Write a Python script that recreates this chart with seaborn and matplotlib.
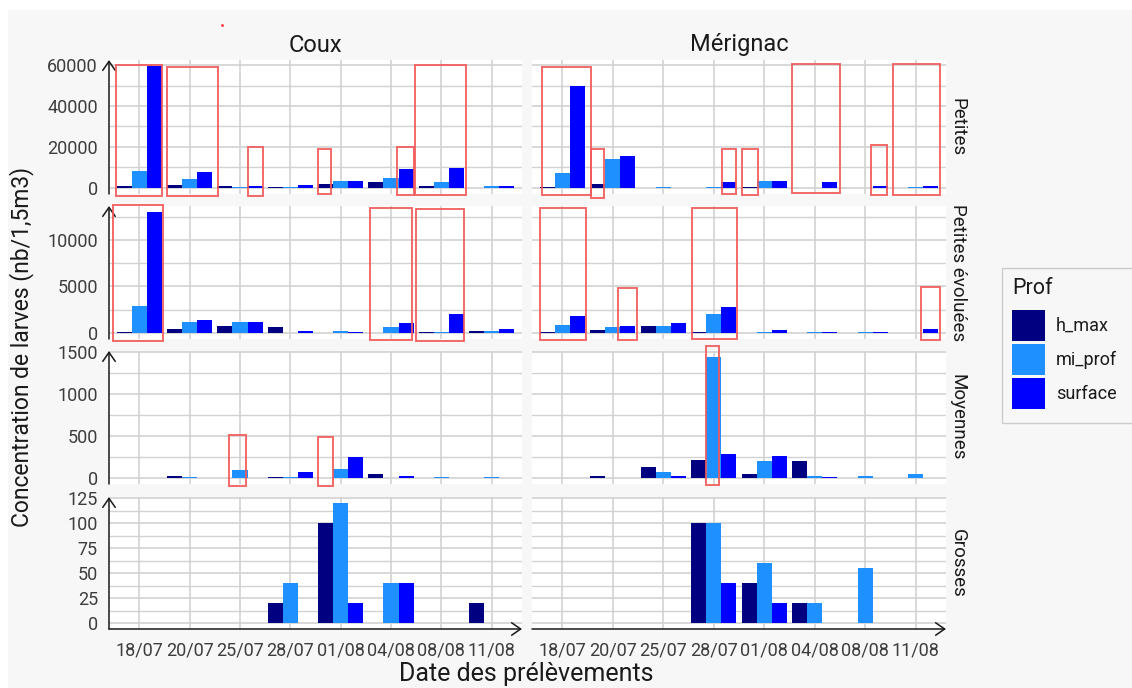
import numpy as np
import pandas as pd
import matplotlib
matplotlib.use("Agg")
import matplotlib.pyplot as plt
from matplotlib.patches import Rectangle, Patch
from matplotlib.ticker import MultipleLocator, FuncFormatter
import seaborn as sns

# ---------------------------------------------------------------- data
dates = ["18/07", "20/07", "25/07", "28/07", "01/08", "04/08", "08/08", "11/08"]
sites = ["Coux", "Mérignac"]
classes = ["Petites", "Petites évoluées", "Moyennes", "Grosses"]
profs = ["h_max", "mi_prof", "surface"]
NA = np.nan

coux_petites = {
    "h_max":   [800, 1600, 800, 650, 2000, 2900, 800, NA],
    "mi_prof": [8500, 4400, 650, 300, 3600, 4900, 2900, 800],
    "surface": [59500, 7800, 1100, 1300, 3600, 9300, 9800, 800],
}
merignac_petites = {
    "h_max":   [650, 2000, NA, NA, 650, NA, NA, NA],
    "mi_prof": [7200, 14000, 650, 650, 3600, NA, NA, 650],
    "surface": [50000, 15700, NA, 2800, 3600, 2800, 1100, 1100],
}
coux_evoluees = {
    "h_max":   [100, 430, 750, 610, NA, NA, 100, 250],
    "mi_prof": [2950, 1200, 1200, NA, 250, 600, 70, 250],
    "surface": [13000, 1430, 1200, 250, 140, 1070, 2040, 430],
}
merignac_evoluees = {
    "h_max":   [100, 290, 790, 100, NA, NA, NA, NA],
    "mi_prof": [890, 610, 710, 2000, 100, 100, 100, NA],
    "surface": [1860, 710, 1070, 2820, 290, 100, 100, 430],
}
coux_moyennes = {
    "h_max":   [NA, 25, NA, 12, NA, 50, NA, NA],
    "mi_prof": [NA, 8, 100, 8, 110, NA, 8, 8],
    "surface": [NA, NA, NA, 75, 250, 25, NA, NA],
}
merignac_moyennes = {
    "h_max":   [NA, 24, 132, 212, 52, 200, NA, NA],
    "mi_prof": [NA, NA, 72, 1444, 200, 24, 24, 44],
    "surface": [NA, NA, 24, 284, 268, 8, NA, NA],
}
coux_grosses = {
    "h_max":   [NA, NA, NA, 20, 100, NA, NA, 20],
    "mi_prof": [NA, NA, NA, 40, 120, 40, NA, NA],
    "surface": [NA, NA, NA, NA, 20, 40, NA, NA],
}
merignac_grosses = {
    "h_max":   [NA, NA, NA, 100, 40, 20, NA, NA],
    "mi_prof": [NA, NA, NA, 100, 60, 20, 55, NA],
    "surface": [NA, NA, NA, 40, 20, NA, NA, NA],
}

panels = {
    ("Coux", "Petites"): coux_petites,
    ("Mérignac", "Petites"): merignac_petites,
    ("Coux", "Petites évoluées"): coux_evoluees,
    ("Mérignac", "Petites évoluées"): merignac_evoluees,
    ("Coux", "Moyennes"): coux_moyennes,
    ("Mérignac", "Moyennes"): merignac_moyennes,
    ("Coux", "Grosses"): coux_grosses,
    ("Mérignac", "Grosses"): merignac_grosses,
}

rows = []
for (site, cls), series in panels.items():
    for prof in profs:
        for d, v in zip(dates, series[prof]):
            rows.append({"Site": site, "Classe": cls, "Date": d, "Prof": prof, "value": v})
df = pd.DataFrame(rows)

# ---------------------------------------------------------------- style
sns.set_style("white")
plt.rcParams["font.family"] = ["Roboto", "DejaVu Sans"]

palette = {"h_max": "#000080", "mi_prof": "#1E90FF", "surface": "#0000FF"}
major_step = {"Petites": 20000, "Petites évoluées": 5000, "Moyennes": 500, "Grosses": 25}

# highlight frames drawn over the bars (x0, x1, y0, y1 in data units)
highlight_boxes = {
    ("Coux", "Petites"): [(-0.46, 0.46, -4100, 60000), (0.55, 1.56, -4100, 59200),
                          (2.15, 2.45, -4100, 19900), (3.54, 3.80, -2900, 19100),
                          (5.12, 5.46, -3300, 19900), (5.48, 6.48, -3300, 60000)],
    ("Mérignac", "Petites"): [(-0.41, 0.57, -3300, 59200), (0.57, 0.83, -4900, 18800),
                              (3.16, 3.44, -2900, 18800), (3.56, 3.88, -3300, 18800),
                              (4.54, 5.51, -2450, 60500), (6.11, 6.44, -3300, 20900),
                              (6.55, 7.48, -3300, 60500)],
    ("Coux", "Petites évoluées"): [(-0.53, 0.48, -825, 13740), (4.58, 5.42, -720, 13390),
                                   (5.49, 6.45, -825, 13280)],
    ("Mérignac", "Petites évoluées"): [(-0.44, 0.46, -720, 13390), (1.11, 1.47, -790, 4820),
                                       (2.57, 3.47, -640, 13390), (7.10, 7.48, -720, 4930)],
    ("Coux", "Moyennes"): [(1.79, 2.12, -100, 512), (3.54, 3.84, -100, 492)],
    ("Mérignac", "Moyennes"): [(2.84, 3.11, -80, 1572)],
}

W, H = 1132, 688
fig = plt.figure(figsize=(W / 100, H / 100), dpi=100)
fig.patch.set_facecolor("#f7f7f7")
# white margin along the top and left edges
fig.add_artist(Rectangle((0, 1 - 10 / H), 1, 10 / H, transform=fig.transFigure,
                         facecolor="white", edgecolor="none", zorder=0))
fig.add_artist(Rectangle((0, 0), 8 / W, 1, transform=fig.transFigure,
                         facecolor="white", edgecolor="none", zorder=0))

cols_px = [(109, 522), (532, 946)]
rows_px = [(60, 194), (206, 339), (351, 484), (497, 629)]

tick_color = "#333333"
label_color = "#3d3d3d"
text_color = "#1a1a1a"
arrow_style = "->,head_length=0.65,head_width=0.45"

for r, cls in enumerate(classes):
    ymax = df.loc[df["Classe"] == cls, "value"].max()
    for c, site in enumerate(sites):
        x0, x1 = cols_px[c]
        y0, y1 = rows_px[r]
        ax = fig.add_axes([x0 / W, 1 - y1 / H, (x1 - x0) / W, (y1 - y0) / H])
        ax.set_facecolor("white")
        sub = df[(df["Site"] == site) & (df["Classe"] == cls)]
        sns.barplot(data=sub, x="Date", y="value", hue="Prof", order=dates,
                    hue_order=profs, palette=palette, width=0.9, saturation=1,
                    errorbar=None, linewidth=0, legend=False, ax=ax)
        ax.set_xlim(-0.6, len(dates) - 0.4)
        ax.set_ylim(-0.05 * ymax, 1.05 * ymax)
        step = major_step[cls]
        ax.yaxis.set_major_locator(MultipleLocator(step))
        ax.yaxis.set_minor_locator(MultipleLocator(step / 2))
        ax.yaxis.set_major_formatter(FuncFormatter(lambda v, p: f"{v:g}"))
        ax.set_axisbelow(True)
        ax.grid(which="major", axis="both", color="#d2d2d2", lw=1.2)
        ax.grid(which="minor", axis="y", color="#d2d2d2", lw=1.0)
        for sp in ax.spines.values():
            sp.set_visible(False)
        ax.set_xlabel("")
        ax.set_ylabel("")
        ax.tick_params(which="minor", length=0)

        if c == 0:
            ax.tick_params(axis="y", which="major", length=4, width=1, color=tick_color,
                           labelsize=13, labelcolor=label_color, pad=4)
            ax.annotate("", xy=(0, 1.0), xytext=(0, 0), xycoords="axes fraction",
                        arrowprops=dict(arrowstyle=arrow_style, lw=1.1, color=text_color,
                                        shrinkA=0, shrinkB=0),
                        annotation_clip=False)
        else:
            ax.tick_params(axis="y", which="major", length=0, labelleft=False)

        if r == len(classes) - 1:
            ax.tick_params(axis="x", which="major", length=4, width=1, color=tick_color,
                           labelsize=13, labelcolor=label_color, pad=5)
            ax.annotate("", xy=(1, 0), xytext=(0, 0), xycoords="axes fraction",
                        arrowprops=dict(arrowstyle=arrow_style, lw=1.1, color=text_color,
                                        shrinkA=0, shrinkB=0),
                        annotation_clip=False)
        else:
            ax.tick_params(axis="x", which="major", length=0, labelbottom=False)

        for bx0, bx1, by0, by1 in highlight_boxes.get((site, cls), []):
            ax.add_patch(Rectangle((bx0, by0), bx1 - bx0, by1 - by0, fill=False,
                                   edgecolor="#f25a5a", lw=1.4, alpha=0.9,
                                   clip_on=False, zorder=5))

# facet strips
for c, site in enumerate(sites):
    x0, x1 = cols_px[c]
    fig.text((x0 + x1) / 2 / W, 1 - 45 / H, site, ha="center", va="center",
             fontsize=17, color=text_color)
for r, cls in enumerate(classes):
    y0, y1 = rows_px[r]
    fig.text(958 / W, 1 - (y0 + y1) / 2 / H, cls, ha="center", va="center",
             rotation=-90, fontsize=13.5, color=text_color)

# axis titles
fig.text(22 / W, 1 - 347 / H, "Concentration de larves (nb/1,5m3)", ha="center",
         va="center", rotation=90, fontsize=16.5, color=text_color)
fig.text(526 / W, 1 - 674 / H, "Date des prélèvements", ha="center", va="center",
         fontsize=18, color=text_color)

# legend: frame runs to the right edge of the figure
fig.add_artist(Rectangle((1002 / W, 1 - 423 / H), 140 / W, 155 / H,
                         transform=fig.transFigure, facecolor="#f7f7f7",
                         edgecolor="#cccccc", lw=1.0, zorder=1))
handles = [Patch(facecolor=palette[p], edgecolor="none") for p in profs]
leg = fig.legend(handles, profs, title="Prof", loc="upper left",
                 bbox_to_anchor=(1002 / W, 1 - 268 / H), frameon=False,
                 fontsize=13, title_fontsize=15.5, handlelength=1.85, handleheight=2.26,
                 labelspacing=0.17, handletextpad=0.6, borderpad=0.55, alignment="left",
                 borderaxespad=0)
leg.set_zorder(2)
leg._legend_box.sep = 8
for t in leg.get_texts():
    t.set_color(text_color)
leg.get_title().set_color(text_color)

# small red mark above the first strip
fig.add_artist(plt.Line2D([222 / W], [1 - 25 / H], marker="o", ms=2, color="#ff3030",
                          markeredgewidth=0, transform=fig.transFigure))

fig.savefig("out.png", dpi=100, facecolor=fig.get_facecolor())
